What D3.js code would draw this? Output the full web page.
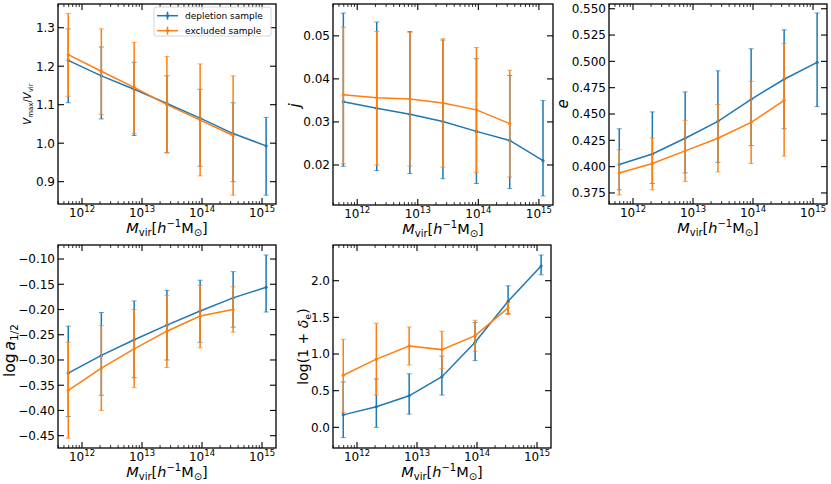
<!DOCTYPE html>
<html><head><meta charset="utf-8">
<script src="https://cdn.jsdelivr.net/npm/d3@7/dist/d3.min.js"></script>
<style>
body{margin:0;background:#fff;}
svg{display:block;font-family:"DejaVu Sans",sans-serif;}
</style></head>
<body>
<svg id="c" width="831" height="484"></svg>
<script>
// ---- data ----
const massBins = [5.9e11, 2.1e12, 7.4e12, 2.6e13, 9.3e13, 3.3e14, 1.17e15];
const seriesNames = ["depletion sample", "excluded sample"];
const xTickExps = [12, 13, 14, 15];

// Vmax/Vvir
const vmaxDep   = [1.215, 1.175, 1.140, 1.103, 1.065, 1.025, 0.993];
const vmaxDepLo = [1.105, 1.063, 1.020, 0.975, 0.940, 0.900, 0.865];
const vmaxDepHi = [1.297, 1.250, 1.210, 1.175, 1.140, 1.105, 1.067];
const vmaxExc   = [1.230, 1.187, 1.145, 1.100, 1.060, 1.020];
const vmaxExcLo = [1.122, 1.075, 1.025, 0.975, 0.915, 0.865];
const vmaxExcHi = [1.337, 1.297, 1.262, 1.225, 1.206, 1.175];
const vmaxTicks = [0.9, 1.0, 1.1, 1.2, 1.3];

// j
const jDep   = [0.0347, 0.0332, 0.0318, 0.0301, 0.0278, 0.0257, 0.0210];
const jDepLo = [0.0197, 0.0187, 0.0180, 0.0168, 0.0157, 0.0145, 0.0128];
const jDepHi = [0.0553, 0.0532, 0.0510, 0.0490, 0.0447, 0.0408, 0.0350];
const jExc   = [0.0363, 0.0356, 0.0353, 0.0344, 0.0328, 0.0296];
const jExcLo = [0.0203, 0.0200, 0.0198, 0.0195, 0.0183, 0.0172];
const jExcHi = [0.0520, 0.0510, 0.0508, 0.0493, 0.0473, 0.0420];
const jTicks = [0.02, 0.03, 0.04, 0.05];

// e
const eDep   = [0.402, 0.412, 0.427, 0.443, 0.464, 0.483, 0.499];
const eDepLo = [0.378, 0.384, 0.394, 0.404, 0.420, 0.436, 0.457];
const eDepHi = [0.436, 0.452, 0.471, 0.491, 0.512, 0.530, 0.546];
const eExc   = [0.394, 0.403, 0.415, 0.427, 0.442, 0.463];
const eExcLo = [0.373, 0.378, 0.386, 0.395, 0.403, 0.410];
const eExcHi = [0.416, 0.427, 0.444, 0.459, 0.481, 0.517];
const eTicks = [0.375, 0.400, 0.425, 0.450, 0.475, 0.500, 0.525, 0.550];

// log a_1/2
const aDep   = [-0.326, -0.291, -0.260, -0.231, -0.203, -0.177, -0.156];
const aDepLo = [-0.412, -0.370, -0.335, -0.300, -0.265, -0.235, -0.205];
const aDepHi = [-0.233, -0.206, -0.183, -0.162, -0.142, -0.125, -0.092];
const aExc   = [-0.360, -0.316, -0.278, -0.243, -0.213, -0.200];
const aExcLo = [-0.455, -0.400, -0.355, -0.315, -0.276, -0.245];
const aExcHi = [-0.265, -0.232, -0.200, -0.172, -0.152, -0.155];
const aTicks = [-0.45, -0.40, -0.35, -0.30, -0.25, -0.20, -0.15, -0.10];

// log(1+delta_e)
const dDep   = [0.17, 0.28, 0.43, 0.69, 1.16, 1.72, 2.20];
const dDepLo = [-0.14, 0.00, 0.18, 0.44, 0.91, 1.55, 2.08];
const dDepHi = [0.62, 0.66, 0.73, 0.97, 1.43, 1.93, 2.35];
const dExc   = [0.71, 0.93, 1.11, 1.06, 1.25, 1.63];
const dExcLo = [0.20, 0.44, 0.85, 0.80, 1.04, 1.54];
const dExcHi = [1.20, 1.42, 1.37, 1.31, 1.46, 1.70];
const dTicks = [0.0, 0.5, 1.0, 1.5, 2.0];

// ---- drawing ----
const svg = d3.select("#c");
const colors = ["#1f77b4", "#ff7f0e"];
const minus = s => s.replace("-", "\u2212");

const panels = [
  {x:58, y:4, w:218, h:200, dom:[0.842,1.3616], ticks:vmaxTicks, fmt:d3.format(".1f"),
   dep:[vmaxDep,vmaxDepLo,vmaxDepHi], exc:[vmaxExc,vmaxExcLo,vmaxExcHi], ylab:"vmax", legend:true},
  {x:333, y:4, w:220, h:201, dom:[0.0107,0.0574], ticks:jTicks, fmt:d3.format(".2f"),
   dep:[jDep,jDepLo,jDepHi], exc:[jExc,jExcLo,jExcHi], ylab:"j"},
  {x:609, y:4, w:218, h:200, dom:[0.3645,0.5545], ticks:eTicks, fmt:d3.format(".3f"),
   dep:[eDep,eDepLo,eDepHi], exc:[eExc,eExcLo,eExcHi], ylab:"e"},
  {x:58, y:245, w:218, h:203, dom:[-0.4744,-0.0722], ticks:aTicks, fmt:d3.format(".2f"),
   dep:[aDep,aDepLo,aDepHi], exc:[aExc,aExcLo,aExcHi], ylab:"a"},
  {x:333, y:245, w:218, h:203, dom:[-0.282,2.487], ticks:dTicks, fmt:d3.format(".1f"),
   dep:[dDep,dDepLo,dDepHi], exc:[dExc,dExcLo,dExcHi], ylab:"d"}
];

panels.forEach(p => {
  const g = svg.append("g").attr("transform", `translate(${p.x},${p.y})`);
  const x = d3.scaleLog().domain([Math.pow(10,11.6), Math.pow(10,15.233)]).range([0, p.w]);
  const y = d3.scaleLinear().domain(p.dom).range([p.h, 0]);

  // minor x ticks
  const minor = [];
  for (let e = 11; e <= 15; e++) for (let m = 2; m <= 9; m++) {
    const v = m * Math.pow(10, e);
    if (v > x.domain()[0] && v < x.domain()[1]) minor.push(v);
  }
  const major = xTickExps.map(e => Math.pow(10, e));
  const tg = g.append("g").attr("stroke", "#000");
  minor.forEach(v => {
    tg.append("line").attr("x1", x(v)).attr("x2", x(v)).attr("y1", p.h).attr("y2", p.h - 3).attr("stroke-width", 0.8);
    tg.append("line").attr("x1", x(v)).attr("x2", x(v)).attr("y1", 0).attr("y2", 3).attr("stroke-width", 0.8);
  });
  major.forEach(v => {
    tg.append("line").attr("x1", x(v)).attr("x2", x(v)).attr("y1", p.h).attr("y2", p.h - 6).attr("stroke-width", 1.1);
    tg.append("line").attr("x1", x(v)).attr("x2", x(v)).attr("y1", 0).attr("y2", 6).attr("stroke-width", 1.1);
  });
  p.ticks.forEach(v => {
    tg.append("line").attr("x1", 0).attr("x2", 6).attr("y1", y(v)).attr("y2", y(v)).attr("stroke-width", 1.1);
    tg.append("line").attr("x1", p.w).attr("x2", p.w - 6).attr("y1", y(v)).attr("y2", y(v)).attr("stroke-width", 1.1);
  });

  // x tick labels
  xTickExps.forEach(e => {
    const t = g.append("text").attr("x", x(Math.pow(10, e))).attr("y", p.h + 12.5)
      .attr("text-anchor", "middle").attr("font-size", 12);
    t.append("tspan").text("10");
    t.append("tspan").attr("font-size", 8.5).attr("dy", -5).text(String(e));
  });
  // y tick labels
  p.ticks.forEach(v => {
    g.append("text").attr("x", -3).attr("y", y(v)).attr("dy", "0.36em")
      .attr("text-anchor", "end").attr("font-size", 12).text(minus(p.fmt(v)));
  });

  // x label
  const xl = g.append("text").attr("x", p.w / 2).attr("y", p.h + 29)
    .attr("text-anchor", "middle").attr("font-size", 14.5);
  xl.append("tspan").attr("font-style", "italic").text("M");
  xl.append("tspan").attr("font-size", 10).attr("dy", 3).text("vir");
  xl.append("tspan").attr("dy", -3).text("[");
  xl.append("tspan").attr("font-style", "italic").text("h");
  xl.append("tspan").attr("font-size", 10).attr("dy", -6).text("\u22121");
  xl.append("tspan").attr("dy", 6).text("M");
  xl.append("tspan").attr("font-size", 10).attr("dy", 3).text("\u2299");
  xl.append("tspan").attr("dy", -3).text("]");

  // y label
  const cy = p.h / 2;
  if (p.ylab === "vmax") {
    const yl = g.append("text").attr("transform", `translate(-27,${cy}) rotate(-90)`)
      .attr("text-anchor", "middle").attr("font-size", 10);
    yl.append("tspan").attr("font-style", "italic").text("V");
    yl.append("tspan").attr("font-size", 7).attr("dy", 2).text("max");
    yl.append("tspan").attr("dy", -2).text("/");
    yl.append("tspan").attr("font-style", "italic").text("V");
    yl.append("tspan").attr("font-size", 7).attr("dy", 2).text("vir");
  } else if (p.ylab === "j") {
    g.append("text").attr("transform", `translate(-33,${cy + 1}) rotate(-90)`)
      .attr("text-anchor", "middle").attr("font-size", 15).attr("font-style", "italic").text("j");
  } else if (p.ylab === "e") {
    g.append("text").attr("transform", `translate(-41,${cy}) rotate(-90)`)
      .attr("text-anchor", "middle").attr("font-size", 15).attr("font-style", "italic").text("e");
  } else if (p.ylab === "a") {
    const yl = g.append("text").attr("transform", `translate(-43,${cy + 4}) rotate(-90)`)
      .attr("text-anchor", "middle").attr("font-size", 15.5);
    yl.append("tspan").text("log");
    yl.append("tspan").attr("dx", 3).attr("font-style", "italic").text("a");
    yl.append("tspan").attr("font-size", 10.5).attr("dy", 3).text("1/2");
  } else if (p.ylab === "d") {
    const yl = g.append("text").attr("transform", `translate(-25,${cy}) rotate(-90)`)
      .attr("text-anchor", "middle").attr("font-size", 14);
    yl.append("tspan").text("log(1 + ");
    yl.append("tspan").attr("font-style", "italic").text("\u03b4");
    yl.append("tspan").attr("font-size", 9.5).attr("dy", 3).text("e");
    yl.append("tspan").attr("dy", -3).text(")");
  }

  // series
  [p.dep, p.exc].forEach((s, si) => {
    const [mid, lo, hi] = s;
    const pts = mid.map((v, i) => ({m: massBins[i], v, lo: lo[i], hi: hi[i]}));
    const sg = g.append("g").attr("stroke", colors[si]).attr("fill", colors[si]);
    sg.append("path").datum(pts).attr("fill", "none").attr("stroke-width", 1.5)
      .attr("d", d3.line().x(d => x(d.m)).y(d => y(d.v)));
    pts.forEach(d => {
      sg.append("line").attr("x1", x(d.m)).attr("x2", x(d.m)).attr("y1", y(d.lo)).attr("y2", y(d.hi)).attr("stroke-width", 1.5);
      [d.lo, d.hi].forEach(c => sg.append("line").attr("x1", x(d.m) - 2.5).attr("x2", x(d.m) + 2.5)
        .attr("y1", y(c)).attr("y2", y(c)).attr("stroke-width", 1).attr("stroke-opacity", 0.7));
      sg.append("circle").attr("cx", x(d.m)).attr("cy", y(d.v)).attr("r", 1.6).attr("stroke", "none");
    });
  });

  // frame
  g.append("rect").attr("width", p.w).attr("height", p.h).attr("fill", "none")
    .attr("stroke", "#000").attr("stroke-width", 1.3);

  // legend
  if (p.legend) {
    const lg = g.append("g").attr("transform", "translate(96,3)");
    lg.append("rect").attr("width", 117).attr("height", 29).attr("rx", 2)
      .attr("fill", "#fff").attr("fill-opacity", 0.8).attr("stroke", "#ccc").attr("stroke-width", 0.8);
    seriesNames.forEach((n, i) => {
      const yy = 8.7 + i * 15;
      lg.append("line").attr("x1", 3).attr("x2", 24).attr("y1", yy).attr("y2", yy)
        .attr("stroke", colors[i]).attr("stroke-width", 1.5);
      lg.append("line").attr("x1", 13.5).attr("x2", 13.5).attr("y1", yy - 4).attr("y2", yy + 4)
        .attr("stroke", colors[i]).attr("stroke-width", 1.5);
      lg.append("circle").attr("cx", 13.5).attr("cy", yy).attr("r", 1.6).attr("fill", colors[i]);
      lg.append("text").attr("x", 31).attr("y", yy).attr("dy", "0.35em")
        .attr("font-size", 9).text(n);
    });
  }
});
</script>
</body></html>
